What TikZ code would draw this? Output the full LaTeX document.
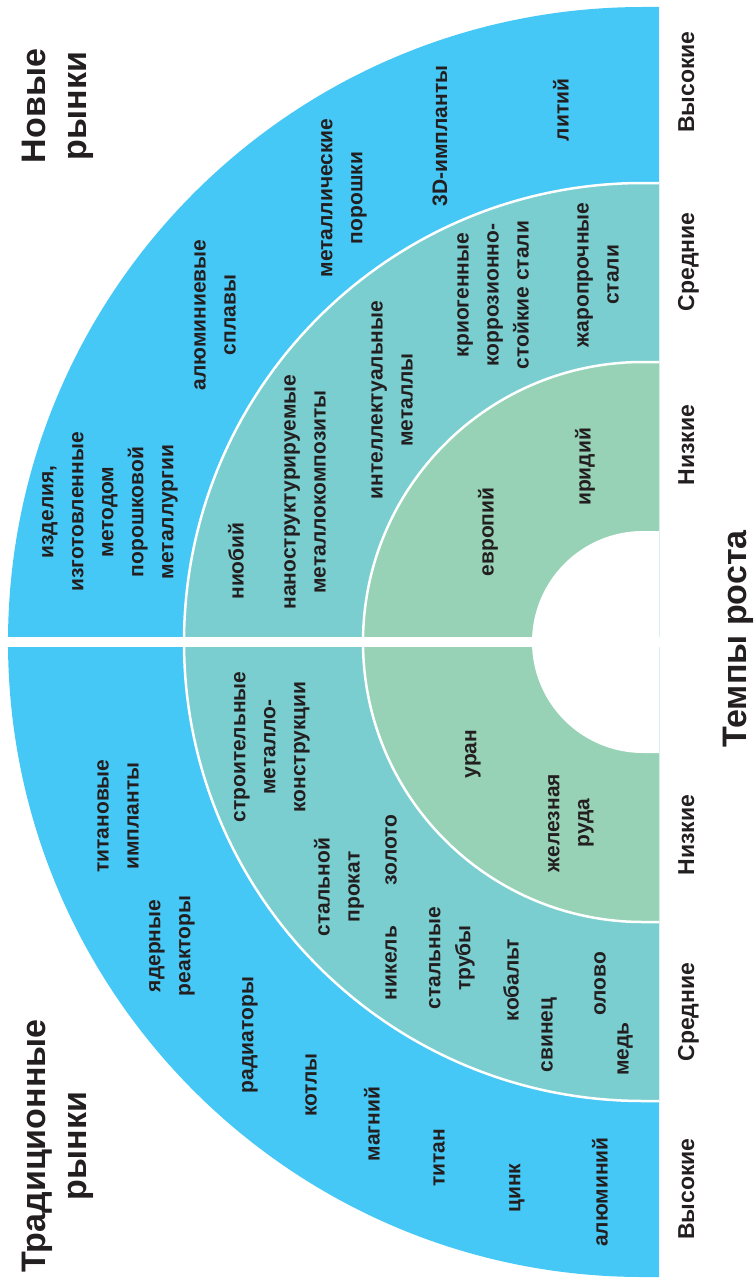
\documentclass[tikz,border=0pt]{standalone}
\usepackage{fontspec}
\setmainfont{Liberation Sans}
\usepackage{xcolor}
\definecolor{outerblue}{RGB}{69,200,245}
\definecolor{midteal}{RGB}{122,206,208}
\definecolor{innergreen}{RGB}{151,210,183}
\definecolor{ink}{RGB}{35,31,32}
\tikzstyle{item} = [rotate=90, align=center, text=ink, inner sep=0pt,
    font=\fontsize{21}{30}\selectfont\bfseries]
\tikzstyle{ratelabel} = [rotate=90, anchor=base, text=ink, inner sep=0pt,
    font=\fontsize{23}{28}\selectfont\bfseries]
\tikzstyle{markettitle} = [rotate=90, align=center, text=ink, inner sep=0pt,
    font=\fontsize{34}{41}\selectfont\bfseries]
\tikzstyle{ringsep} = [draw=white, line width=2.5pt]

\begin{document}
\begin{tikzpicture}[x=1pt,y=1pt]
    \useasboundingbox (0,0) rectangle (754,-1279);
    \fill[outerblue] (659,-7) -- (643,-7) arc[start angle=90, end angle=270, radius=635] -- (659,-1277) -- cycle;
    \fill[midteal] (659,-183) -- (643,-183) arc[start angle=90, end angle=270, radius=459] -- (659,-1101) -- cycle;
    \fill[innergreen] (659,-362) -- (643,-362) arc[start angle=90, end angle=270, radius=280] -- (659,-922) -- cycle;
    \fill[white] (659,-531) -- (643,-531) arc[start angle=90, end angle=270, radius=111] -- (659,-753) -- cycle;
    \draw[ringsep] (659,-183) -- (643,-183) arc[start angle=90, end angle=270, radius=459] -- (659,-1101);
    \draw[ringsep] (659,-362) -- (643,-362) arc[start angle=90, end angle=270, radius=280] -- (659,-922);
    \fill[white] (0,-637) rectangle (660,-647);

    \node[markettitle] (newmkt) at (58,-106) {Новые\\рынки};
    \node[markettitle] (oldmkt) at (58,-1146) {Традиционные\\рынки};

    \node[ratelabel] (hightop) at (694,-82) {Высокие};
    \node[ratelabel] (midtop) at (694,-262) {Средние};
    \node[ratelabel] (lowtop) at (694,-445) {Низкие};
    \node[ratelabel] (lowbot) at (694,-835) {Низкие};
    \node[ratelabel] (midbot) at (694,-1012) {Средние};
    \node[ratelabel] (highbot) at (694,-1189) {Высокие};
    \node[ratelabel, font=\fontsize{34}{41}\selectfont\bfseries] (rate) at (746,-639) {Темпы роста};

    \node[item] (lithium) at (561,-110) {литий};
    \node[item] (implants3d) at (440,-136) {3D-импланты};
    \node[item] (powders) at (344,-198) {металлические\\порошки};
    \node[item] (alalloys) at (215,-315) {алюминиевые\\сплавы};
    \node[item] (pmparts) at (110,-512) {изделия,\\изготовленные\\методом\\порошковой\\металлургии};
    \node[item] (niobium) at (236,-561) {ниобий};
    \node[item] (nanocomp) at (305,-492) {наноструктурируемые\\металлокомпозиты};
    \node[item] (smartmet) at (392,-400) {интеллектуальные\\металлы};
    \node[item] (cryosteel) at (493,-295) {криогенные\\коррозионно-\\стойкие стали};
    \node[item] (heatsteel) at (598,-275) {жаропрочные\\стали};
    \node[item] (europium) at (488,-532) {европий};
    \node[item] (iridium) at (585,-467) {иридий};

    \node[item] (tiimpl) at (118,-816) {титановые\\импланты};
    \node[item] (reactors) at (172,-946) {ядерные\\реакторы};
    \node[item] (radiators) at (250,-1035) {радиаторы};
    \node[item] (boilers) at (311,-1085) {котлы};
    \node[item] (magnesium) at (372,-1124) {магний};
    \node[item] (titanium) at (439,-1158) {титан};
    \node[item] (zinc) at (517,-1188) {цинк};
    \node[item] (aluminium) at (600,-1192) {алюминий};
    \node[item] (steelframe) at (272,-747) {строительные\\металло-\\конструкции};
    \node[item] (rolled) at (339,-887) {стальной\\прокат};
    \node[item] (gold) at (391,-850) {золото};
    \node[item] (nickel) at (391,-963) {никель};
    \node[item] (pipes) at (452,-958) {стальные\\трубы};
    \node[item] (cobalt) at (511,-980) {кобальт};
    \node[item] (lead) at (549,-1035) {свинец};
    \node[item] (tin) at (600,-984) {олово};
    \node[item] (copper) at (625,-1049) {медь};
    \node[item] (uranium) at (473,-754) {уран};
    \node[item] (ironore) at (571,-823) {железная\\руда};
\end{tikzpicture}
\end{document}
